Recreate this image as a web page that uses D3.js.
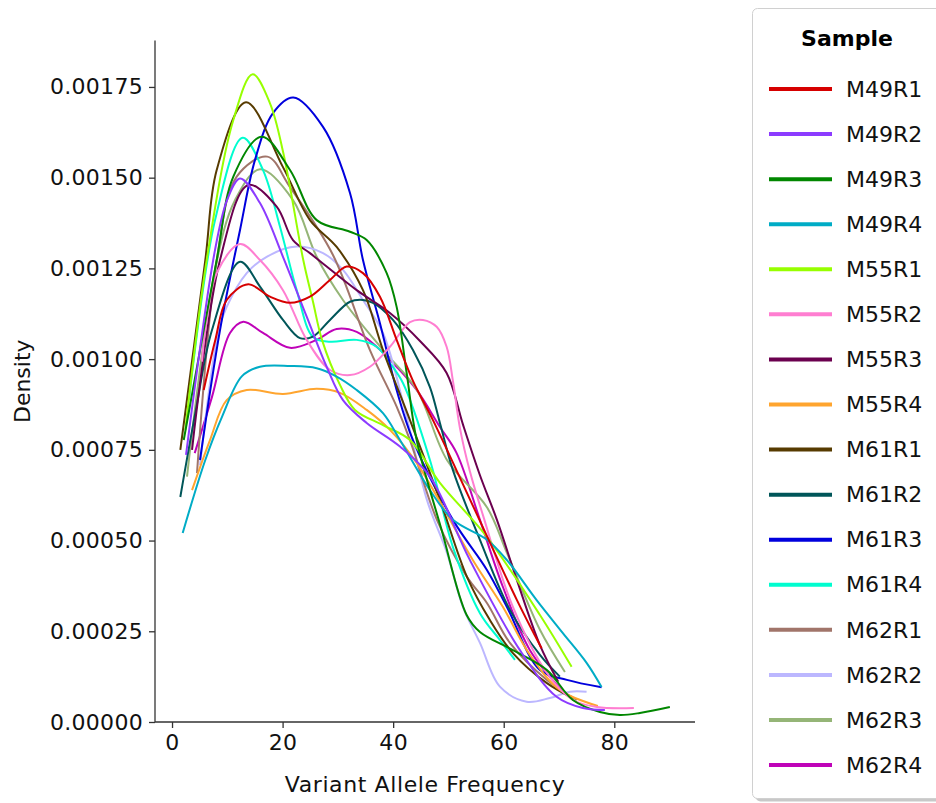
<!DOCTYPE html>
<html>
<head>
<meta charset="utf-8">
<script src="https://cdn.jsdelivr.net/npm/d3@7"></script>
<style>
  html, body { margin: 0; padding: 0; background: #fff; }
  svg { display: block; font-family: "DejaVu Sans", sans-serif; }
</style>
</head>
<body>
<svg id="chart" width="936" height="803"></svg>
<script>
// Sample names, in legend order
const samples = ["M49R1", "M49R2", "M49R3", "M49R4", "M55R1", "M55R2", "M55R3", "M55R4",
                 "M61R1", "M61R2", "M61R3", "M61R4", "M62R1", "M62R2", "M62R3", "M62R4"];

// Line colour for each sample
const sampleColors = ["#d60000", "#8c3bff", "#018700", "#00acc6", "#97ff00", "#ff7ed1", "#6b004f", "#ffa52f",
                      "#573b00", "#005659", "#0000dd", "#00fdcf", "#a1756a", "#bcb7ff", "#95b577", "#bf03b8"];

// Density curves: [variant allele frequency, density]
const M49R1 = [[5.73,0.000915],[7.83,0.001053],[9.89,0.001163],[13.80,0.001206],[17.72,0.001172],[21.34,0.001155],[24.95,0.001172],[28.57,0.001218],[31.59,0.001255],[34.54,0.001237],[37.61,0.001172],[40.63,0.001053],[43.58,0.000940],[47.20,0.000832],[54.79,0.000584],[62.39,0.000336],[66.85,0.000203]];
const M49R2 = [[2.53,0.000736],[7.78,0.001301],[10.00,0.001440],[12.30,0.001498],[15.91,0.001430],[20.07,0.001282],[24.36,0.001117],[27.97,0.000979],[30.92,0.000887],[35.21,0.000824],[41.23,0.000759],[46.65,0.000676],[53.89,0.000446],[62.93,0.000198],[69.56,0.0000697],[74.32,0.0000386],[78.30,0.000033]];
const M49R3 = [[2.12,0.000777],[8.08,0.001273],[11.09,0.001503],[16.22,0.001613],[21.34,0.001521],[26.17,0.001383],[32.19,0.001351],[35.21,0.001328],[38.83,0.001237],[40.63,0.001144],[42.44,0.000962],[44.25,0.000777],[48.77,0.000529],[53.29,0.000295],[55.70,0.000248],[61.66,0.000198],[67.81,0.000143],[72.51,0.0000606],[77.40,0.0000276],[81.01,0.0000193],[84.63,0.0000248],[90.05,0.0000413]];
const M49R4 = [[1.93,0.000521],[6.02,0.000722],[9.04,0.000841],[12.66,0.000953],[15.91,0.000979],[21.34,0.000981],[26.17,0.000975],[29.78,0.000952],[33.40,0.000915],[38.16,0.000851],[41.23,0.000777],[46.65,0.000639],[50.81,0.000557],[56.96,0.000502],[60.58,0.000446],[65.95,0.000336],[70.70,0.000245],[74.99,0.000163],[77.70,0.0000964]];
const M55R1 = [[2.41,0.000805],[6.27,0.001273],[11.09,0.001659],[14.59,0.001785],[17.72,0.001705],[20.13,0.001568],[23.74,0.001273],[25.50,0.001158],[27.13,0.001053],[30.38,0.000929],[33.09,0.000860],[38.16,0.000818],[43.04,0.000777],[48.46,0.000659],[56.91,0.000511],[66.55,0.000295],[72.28,0.000152]];
const M55R2 = [[5.42,0.000993],[6.02,0.001080],[8.08,0.001237],[12.30,0.001317],[15.91,0.001273],[20.07,0.001190],[24.36,0.001053],[28.57,0.000970],[32.19,0.000956],[35.80,0.000979],[39.42,0.001034],[43.04,0.001102],[45.39,0.001108],[47.87,0.001089],[49.67,0.001034],[50.81,0.000940],[52.08,0.000810],[53.89,0.000690],[56.24,0.000570],[61.66,0.000317],[67.81,0.000135],[72.51,0.0000606],[76.85,0.0000413],[83.54,0.0000386]];
const M55R3 = [[3.62,0.000750],[8.68,0.001273],[13.80,0.001480],[18.93,0.001420],[21.88,0.001328],[24.95,0.001292],[27.97,0.001255],[33.40,0.001190],[39.42,0.001127],[44.85,0.001050],[49.67,0.000962],[52.62,0.000820],[55.70,0.000680],[58.77,0.000557],[62.39,0.000391],[66.55,0.000212],[69.86,0.000111]];
const M55R4 = [[3.62,0.000639],[6.87,0.000777],[9.89,0.000887],[13.51,0.000915],[20.07,0.000904],[26.17,0.000918],[30.38,0.000907],[35.21,0.000860],[39.42,0.000805],[44.25,0.000714],[54.43,0.000446],[59.86,0.000317],[64.74,0.000185],[70.16,0.0000882],[77.03,0.0000441]];
const M61R1 = [[1.50,0.000750],[6.02,0.001273],[8.08,0.001521],[13.38,0.001708],[20.07,0.001529],[24.95,0.001383],[29.78,0.001309],[34.54,0.001190],[38.16,0.001025],[43.04,0.000832],[48.46,0.000612],[53.35,0.000400],[57.50,0.000281],[61.66,0.000190],[67.81,0.000107],[72.51,0.0000661]];
const M61R2 = [[1.50,0.000620],[4.21,0.000851],[7.23,0.001080],[12.30,0.001268],[15.91,0.001200],[20.07,0.001108],[23.15,0.001058],[25.50,0.001062],[28.57,0.001108],[32.19,0.001158],[34.54,0.001163],[36.35,0.001155],[39.96,0.001108],[43.58,0.001025],[46.65,0.000923],[48.46,0.000824],[50.81,0.000694],[55.70,0.000502],[61.12,0.000309],[66.55,0.000185],[70.16,0.000125]];
const M61R3 = [[5.06,0.000722],[8.68,0.001080],[12.30,0.001356],[15.01,0.001549],[18.26,0.001678],[21.93,0.001721],[27.31,0.001640],[32.19,0.001458],[34.54,0.001273],[37.61,0.001099],[40.63,0.000915],[43.58,0.000777],[50.81,0.000557],[56.96,0.000419],[60.58,0.000317],[66.55,0.000143],[71.43,0.000116],[77.70,0.0000956]];
const M61R4 = [[3.07,0.000887],[7.78,0.001383],[12.78,0.001610],[16.46,0.001521],[19.53,0.001365],[22.55,0.001190],[25.50,0.001061],[28.57,0.001048],[33.40,0.001053],[37.02,0.001034],[39.42,0.000989],[41.77,0.000934],[46.65,0.000722],[50.81,0.000482],[55.70,0.000300],[59.31,0.000226],[62.03,0.000171]];
const M62R1 = [[4.52,0.000686],[8.08,0.001273],[11.70,0.001503],[17.23,0.001558],[21.34,0.001474],[29.11,0.001287],[35.80,0.001025],[40.63,0.000869],[43.04,0.000777],[47.92,0.000557],[53.35,0.000400],[56.96,0.000328],[61.12,0.000218],[67.81,0.000116],[73.24,0.0000606]];
const M62R2 = [[5.06,0.000708],[8.44,0.001080],[9.89,0.001144],[13.51,0.001237],[17.12,0.001282],[22.55,0.001310],[27.31,0.001292],[30.92,0.001246],[34.54,0.001163],[38.16,0.001072],[42.13,0.000860],[46.11,0.000612],[49.73,0.000466],[52.62,0.000317],[55.70,0.000218],[59.31,0.0000973],[64.14,0.0000559],[68.35,0.0000661],[71.97,0.0000835],[74.99,0.0000835]];
const M62R3 = [[2.71,0.000676],[7.78,0.001246],[11.39,0.001438],[15.91,0.001523],[21.88,0.001438],[26.17,0.001282],[30.92,0.001163],[38.16,0.001025],[44.30,0.000915],[49.73,0.000722],[56.96,0.000592],[60.58,0.000466],[66.55,0.000254],[71.07,0.000138]];
const M62R4 = [[4.10,0.000741],[7.23,0.000896],[10.49,0.001072],[12.89,0.001103],[16.46,0.001072],[21.34,0.001031],[26.17,0.001053],[29.78,0.001083],[33.40,0.001075],[37.02,0.001034],[40.63,0.000979],[44.25,0.000915],[48.46,0.000813],[51.48,0.000741],[55.70,0.000557],[59.86,0.000372],[64.74,0.000198],[70.47,0.0000882]];

const curves = [M49R1, M49R2, M49R3, M49R4, M55R1, M55R2, M55R3, M55R4,
                M61R1, M61R2, M61R3, M61R4, M62R1, M62R2, M62R3, M62R4];

// Axis ticks
const xTicks = [0, 20, 40, 60, 80];
const yTicks = [0, 0.00025, 0.0005, 0.00075, 0.001, 0.00125, 0.0015, 0.00175];

const svg = d3.select("#chart");
const plot = { left: 155, right: 695, top: 40.5, bottom: 722 };

const x = d3.scaleLinear().domain([-3.08, 94.6]).range([plot.left, plot.right]);
const y = d3.scaleLinear().domain([0, 0.001878]).range([plot.bottom, plot.top]);

const fontSize = 22;

// axes
const xAxis = svg.append("g")
  .attr("transform", `translate(0,${plot.bottom})`)
  .call(d3.axisBottom(x).tickValues(xTicks).tickSize(6).tickPadding(6).tickFormat(d3.format("d")));
const yAxis = svg.append("g")
  .attr("transform", `translate(${plot.left},0)`)
  .call(d3.axisLeft(y).tickValues(yTicks).tickSize(6).tickPadding(6).tickFormat(d => d.toFixed(5)));

[xAxis, yAxis].forEach(g => {
  g.selectAll("path.domain").attr("stroke", "#333").attr("stroke-width", 1.3);
  g.selectAll(".tick line").attr("stroke", "#333").attr("stroke-width", 1.3);
  g.selectAll(".tick text").attr("fill", "#111").style("font-size", fontSize + "px")
    .style("font-family", "'DejaVu Sans', sans-serif").style("letter-spacing", "0.3px");
});
// keep only the spines, without the end caps
xAxis.select("path.domain").attr("d", `M${plot.left},0H${plot.right}`);
yAxis.select("path.domain").attr("d", `M0,${plot.bottom}V${plot.top}`);

// axis titles
svg.append("text")
  .attr("x", (plot.left + plot.right) / 2).attr("y", 792)
  .attr("text-anchor", "middle").attr("fill", "#111")
  .style("font-size", fontSize + "px").style("letter-spacing", "0.6px")
  .text("Variant Allele Frequency");
svg.append("text")
  .attr("transform", `translate(30,${(plot.top + plot.bottom) / 2}) rotate(-90)`)
  .attr("text-anchor", "middle").attr("fill", "#111")
  .style("font-size", fontSize + "px")
  .text("Density");

// density curves, first sample drawn last so it sits on top
const line = d3.line()
  .x(d => x(d[0]))
  .y(d => y(d[1]))
  .curve(d3.curveCatmullRom.alpha(0.5));

const order = d3.range(samples.length).reverse();
svg.append("g").selectAll("path")
  .data(order)
  .join("path")
  .attr("d", i => line(curves[i]))
  .attr("fill", "none")
  .attr("stroke", i => sampleColors[i])
  .attr("stroke-width", 2)
  .attr("stroke-linejoin", "round")
  .attr("stroke-linecap", "butt");

// legend
const legend = svg.append("g");
legend.append("rect")
  .attr("x", 755.5).attr("y", 11.5).attr("width", 220).attr("height", 790)
  .attr("rx", 5).attr("fill", "#c8c8c8");
legend.append("rect")
  .attr("x", 752.5).attr("y", 8.5).attr("width", 220).attr("height", 790)
  .attr("rx", 5).attr("fill", "#fff").attr("stroke", "#d0d0d0").attr("stroke-width", 1);
legend.append("text")
  .attr("x", 847).attr("y", 38).attr("dy", "0.35em")
  .attr("text-anchor", "middle").attr("fill", "#000")
  .style("font-size", fontSize + "px").style("font-weight", "bold")
  .text("Sample");

const rowY = i => 89 + i * 45.07;
const items = legend.selectAll("g.item").data(samples).join("g").attr("class", "item");
items.append("line")
  .attr("x1", 769).attr("x2", 832)
  .attr("y1", (d, i) => rowY(i)).attr("y2", (d, i) => rowY(i))
  .attr("stroke", (d, i) => sampleColors[i]).attr("stroke-width", 4);
items.append("text")
  .attr("x", 846).attr("y", (d, i) => rowY(i)).attr("dy", "0.35em")
  .attr("fill", "#111").style("font-size", fontSize + "px")
  .text(d => d);
</script>
</body>
</html>
